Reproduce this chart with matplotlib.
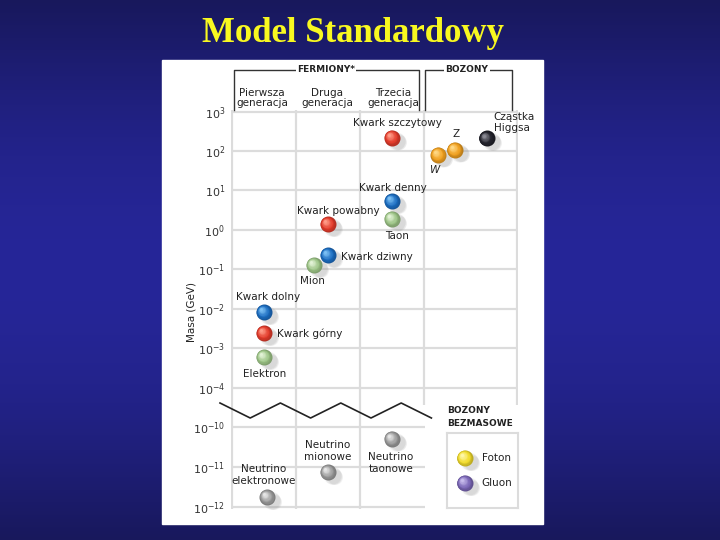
import numpy as np
import matplotlib
matplotlib.use("Agg")
import matplotlib.pyplot as plt
import matplotlib.colors as mcolors
from matplotlib.patches import Rectangle
from matplotlib.ticker import NullLocator
from matplotlib.transforms import offset_copy

# --- data ---
names = ["Kwark górny", "Kwark dolny", "Elektron",
         "Kwark powabny", "Kwark dziwny", "Mion",
         "Kwark szczytowy", "Kwark denny", "Taon",
         "W", "Z", "Cząstka\nHiggsa"]
column = [0.5, 0.5, 0.5, 1.5, 1.5, 1.28, 2.5, 2.5, 2.5, 3.22, 3.48, 3.98]
mass_gev = [0.0024, 0.0082, 0.00059, 1.4, 0.23, 0.128, 218, 5.4, 1.9, 80, 107, 210]
kind = ["quark_up", "quark_down", "lepton", "quark_up", "quark_down", "lepton",
        "quark_up", "quark_down", "lepton", "boson", "boson", "higgs"]

nu_names = ["Neutrino\nelektronowe", "Neutrino\nmionowe", "Neutrino\ntaonowe"]
nu_column = [0.55, 1.5, 2.5]
nu_mass_gev = [1.8e-12, 7.6e-12, 5.1e-11]

massless_names = ["Foton", "Gluon"]
massless_kind = ["photon", "gluon"]

generations = ["Pierwsza\ngeneracja", "Druga\ngeneracja", "Trzecia\ngeneracja"]
col_edges = [0, 1, 2, 3, 4.45]
decades_upper = list(range(3, -5, -1))
decades_lower = [-10, -11, -12]

# --- styles ---
sphere_colors = {
    "quark_up": ("#e23b2b", "#ff9c88"),
    "quark_down": ("#1b6cc0", "#7cc0f4"),
    "lepton": ("#9cc486", "#e2f2d6"),
    "boson": ("#f0a020", "#ffd884"),
    "higgs": ("#23232c", "#8a8a94"),
    "neutrino": ("#9a9a9a", "#e6e6e6"),
    "photon": ("#f2dc2c", "#fff7a8"),
    "gluon": ("#7c68b8", "#c8bcec"),
}
label_offsets = {  # dx, dy in pixels, horizontal alignment
    "Kwark górny": (13, -1, "left"), "Kwark dolny": (4, 15, "center"),
    "Elektron": (1, -17, "center"), "Kwark powabny": (10, 13, "center"),
    "Kwark dziwny": (13, -2, "left"), "Mion": (-1, -16, "center"),
    "Kwark szczytowy": (5, 15, "center"), "Kwark denny": (1, 13, "center"),
    "Taon": (5, -17, "center"), "W": (-3, -15, "center"), "Z": (1, 16, "center"),
    "Cząstka\nHiggsa": (7, 16, "left"),
    "Neutrino\nelektronowe": (-4, 22, "center"), "Neutrino\nmionowe": (0, 21, "center"),
    "Neutrino\ntaonowe": (-1, -24, "center"),
    "Foton": (17, 0, "left"), "Gluon": (17, 0, "left"),
}
TXT = "#222222"
GRID = "#dcdcdc"
FS = 7.5

fig = plt.figure(figsize=(7.2, 5.4), dpi=100)


def px_rect(x0, y0, x1, y1):
    return [x0 / 720, 1 - y1 / 540, (x1 - x0) / 720, (y1 - y0) / 540]


# background gradient + white panel
bg = fig.add_axes([0, 0, 1, 1], zorder=0)
yy = np.linspace(0, 1, 540)
prof = np.sin(np.pi * yy)[:, None]
top = np.array([24, 24, 92]) / 255
mid = np.array([38, 38, 152]) / 255
img = top + (mid - top) * prof[..., None]
img = np.repeat(img, 2, axis=1)
bg.imshow(img, extent=[0, 720, 540, 0], aspect="auto")
bg.add_patch(Rectangle((162, 60), 381, 464, color="white"))
bg.set_xlim(0, 720)
bg.set_ylim(540, 0)
bg.axis("off")

fig.text(353 / 720, 1 - 34 / 540, "Model Standardowy", ha="center", va="center",
         family="Liberation Serif", weight="bold", fontsize=25, color="#f8f820")


def style_axis(ax, decades):
    ax.set_yscale("log")
    ax.patch.set_alpha(0)
    ax.set_yticks([10.0 ** d for d in decades])
    ax.set_yticklabels([rf"$10^{{{d}}}$" for d in decades])
    ax.yaxis.set_minor_locator(NullLocator())
    ax.tick_params(length=0, labelsize=8, labelcolor="#333333", pad=4.3)
    ax.tick_params(axis="x", labelbottom=False)
    ax.grid(True, color=GRID, lw=1.6)
    ax.set_axisbelow(True)
    for s in ax.spines.values():
        s.set_visible(False)


ax1 = fig.add_axes(px_rect(231, 110, 518, 405), zorder=1)
style_axis(ax1, decades_upper)
ax1.set_xticks(col_edges)
ax1.set_xlim(-1 / 64, 286 / 64)
ax1.set_ylim(10 ** -4.444, 10 ** 3.043)

ax2 = fig.add_axes(px_rect(231, 405, 425, 509), zorder=1)
style_axis(ax2, decades_lower)
ax2.set_xticks(col_edges[:3])
ax2.set_xlim(-1 / 64, 193 / 64)
ax2.set_ylim(10 ** -12.0425, 10 ** -9.4425)

ax3 = fig.add_axes(px_rect(447, 433, 518, 508), zorder=1)
ax3.set_xlim(0, 1)
ax3.set_ylim(-1, 2)
ax3.set_xticks([])
ax3.set_yticks([])
ax3.patch.set_alpha(0)
for s in ax3.spines.values():
    s.set_color(GRID)
    s.set_linewidth(1.5)


def sphere(ax, x, y, kind, r=8):
    base, hi = (np.array(mcolors.to_rgb(c)) for c in sphere_colors[kind])
    dark = base * 0.78
    # soft shadow to the lower right
    for k in range(4):
        tr = offset_copy(ax.transData, fig=fig, x=4 + k, y=-3 - 0.5 * k, units="dots")
        d = (2 * r + 2 - k) * 0.72
        ax.scatter([x], [y], s=d ** 2, color="#9a9a9a", alpha=0.10, lw=0,
                   transform=tr, zorder=3, clip_on=False)
    n = 12
    for i in range(n):
        t = i / (n - 1)
        if t < 0.35:
            c = dark + (base - dark) * (t / 0.35)
        else:
            c = base + (hi - base) * ((t - 0.35) / 0.65)
        off = t * 0.35 * r
        tr = offset_copy(ax.transData, fig=fig, x=-off, y=off, units="dots")
        d = 2 * r * (1 - 0.82 * t) * 0.72
        ax.scatter([x], [y], s=d ** 2, color=c, lw=0, transform=tr,
                   zorder=4 + i * 0.01, clip_on=False)


def label(ax, name, x, y):
    dx, dy, ha = label_offsets[name]
    style = "italic" if name == "W" else "normal"
    ax.annotate(name, (x, y), xytext=(dx, dy), textcoords="offset pixels",
                ha=ha, va="center", fontsize=FS, color=TXT, style=style,
                linespacing=1.15, zorder=6, annotation_clip=False)


for nm, cx, m, k in zip(names, column, mass_gev, kind):
    sphere(ax1, cx, m, k)
    label(ax1, nm, cx, m)

for nm, cx, m in zip(nu_names, nu_column, nu_mass_gev):
    sphere(ax2, cx, m, "neutrino")
    label(ax2, nm, cx, m)

for i, (nm, k) in enumerate(zip(massless_names, massless_kind)):
    yv = len(massless_names) - 1 - i
    sphere(ax3, 0.25, yv, k)
    label(ax3, nm, 0.25, yv)

# overlay: headers, brackets, axis break
ov = fig.add_axes([0, 0, 1, 1], zorder=5)
ov.set_xlim(0, 720)
ov.set_ylim(540, 0)
ov.axis("off")
ov.patch.set_alpha(0)

LN = "#333333"
for x0, x1, title, tx in [(234, 419, "FERMIONY*", 326), (425, 512, "BOZONY", 467)]:
    ov.plot([x0, x0, x1, x1], [110, 70, 70, 110], color=LN, lw=1)
    ov.text(tx, 70, title, ha="center", va="center", fontsize=6.5, weight="bold",
            color=TXT, bbox=dict(fc="white", ec="none", pad=1.0))

for i, g in enumerate(generations):
    gx = 232 + 64 * (i + 0.5) - 2 + 1.5 * i
    ov.text(gx, 98, g, ha="center", va="center", fontsize=FS, color=TXT, linespacing=1.1)

zx = 220 + 30.2 * np.arange(8)
zy = np.where(np.arange(8) % 2 == 0, 403, 418)
ov.plot(zx, zy, color="#222222", lw=1.2)

ov.text(447, 417, "BOZONY\nBEZMASOWE", ha="left", va="center", fontsize=6.5,
        weight="bold", color=TXT, linespacing=1.5)

ov.text(192, 312, "Masa (GeV)", rotation=90, ha="center", va="center",
        fontsize=FS, color=TXT)

fig.savefig("out.png", dpi=100)
